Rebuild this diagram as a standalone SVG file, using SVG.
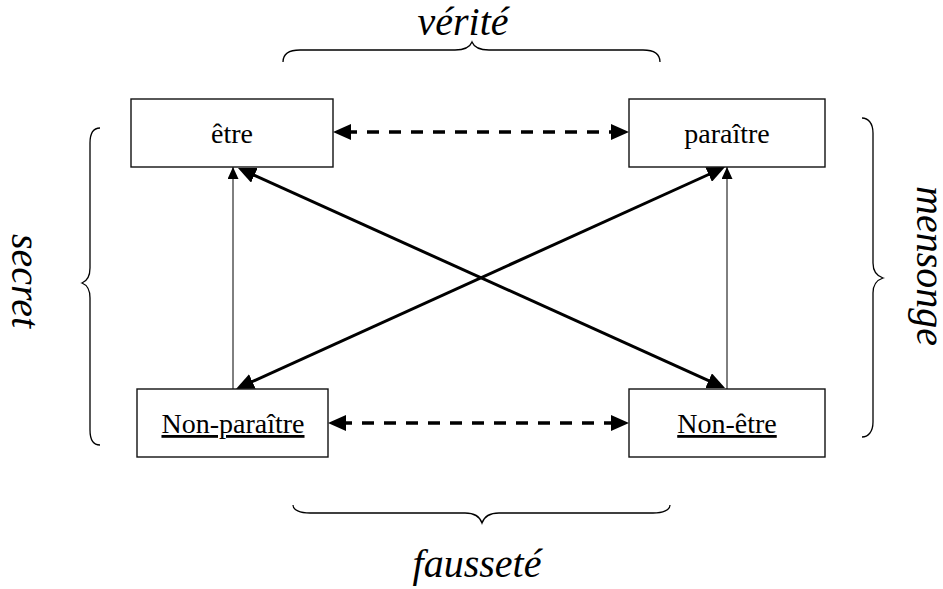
<svg xmlns="http://www.w3.org/2000/svg" width="943" height="589" viewBox="0 0 943 589">
<style>
  .box { fill: #fff; stroke: #111; stroke-width: 1.4; }
  .lbl { font-size: 28px; fill: #000; text-anchor: middle; }
  .ul { text-decoration: underline; }
  .cat { font-size: 40px; font-style: italic; fill: #000; text-anchor: middle; }
  .brace { fill: none; stroke: #000; stroke-width: 1.3; }
  .thick { stroke: #000; stroke-width: 3; fill: none; }
  .dash { stroke: #000; stroke-width: 3.5; stroke-dasharray: 12 10; fill: none; }
  .thin { stroke: #000; stroke-width: 1; fill: none; }
</style>
<defs>
  <marker id="ah" markerUnits="userSpaceOnUse" markerWidth="18" markerHeight="16" refX="6" refY="8" orient="auto-start-reverse">
    <path d="M0,0 L18,8 L0,16 z" fill="#000"/>
  </marker>
  <marker id="ahs" markerUnits="userSpaceOnUse" markerWidth="12" markerHeight="11" refX="12" refY="5.5" orient="auto">
    <path d="M0,0 L12,5.5 L0,11 z" fill="#000"/>
  </marker>
</defs>

<g id="braces">
  <path class="brace" d="M283,62 C283,53 290,50 300,50 L455,50 C465,50 470,47 472,42 C474,47 479,50 489,50 L643,50 C653,50 660,53 660,62"/>
  <path class="brace" d="M293,505 C293,510 300,513 310,513 L465,513 C475,513 480,517 482,523 C484,517 489,513 499,513 L653,513 C663,513 670,510 670,505"/>
  <path class="brace" d="M100,128 C94,128 90,133 90,143 L90,268 C90,277 87,281 82,283 C87,285 90,289 90,298 L90,430 C90,440 94,445 100,445"/>
  <path class="brace" d="M862,118 C868,118 873,123 873,133 L873,263 C873,272 877,276 883,278 C877,280 873,284 873,293 L873,422 C873,432 868,437 862,437"/>
</g>

<g id="labels" font-family="'Liberation Serif', Tinos, 'Times New Roman', 'DejaVu Serif', serif">
  <text class="cat" x="463" y="35">vérité</text>
  <text class="cat" x="477" y="577" font-size="41">fausseté</text>
  <text class="cat" transform="translate(12,281) rotate(90)">secret</text>
  <text class="cat" transform="translate(917,266) rotate(90)" font-size="37">mensonge</text>
</g>

<g id="connectors">
  <line class="dash" x1="345" y1="132" x2="617" y2="132" marker-start="url(#ah)" marker-end="url(#ah)"/>
  <line class="dash" x1="340" y1="423" x2="617" y2="423" marker-start="url(#ah)" marker-end="url(#ah)"/>
  <line class="thick" x1="248.9" y1="172.9" x2="714.1" y2="383.1" marker-start="url(#ah)" marker-end="url(#ah)"/>
  <line class="thick" x1="246.9" y1="384.0" x2="714.1" y2="172.0" marker-start="url(#ah)" marker-end="url(#ah)"/>
  <line class="thin" x1="233" y1="389" x2="233" y2="167" marker-end="url(#ahs)"/>
  <line class="thin" x1="727" y1="389" x2="727" y2="167" marker-end="url(#ahs)"/>
</g>

<g font-family="'Liberation Serif', Tinos, 'Times New Roman', 'DejaVu Serif', serif">
<g id="node-etre">
  <rect class="box" x="131" y="99" width="202" height="68"/>
  <text class="lbl" x="232" y="143">être</text>
</g>
<g id="node-paraitre">
  <rect class="box" x="629" y="99" width="196" height="68"/>
  <text class="lbl" x="727" y="143">paraître</text>
</g>
<g id="node-non-paraitre">
  <rect class="box" x="137" y="389" width="191" height="68"/>
  <text class="lbl ul" x="233" y="433">Non-paraître</text>
</g>
<g id="node-non-etre">
  <rect class="box" x="629" y="389" width="196" height="68"/>
  <text class="lbl ul" x="727" y="433">Non-être</text>
</g>
</g>
</svg>
